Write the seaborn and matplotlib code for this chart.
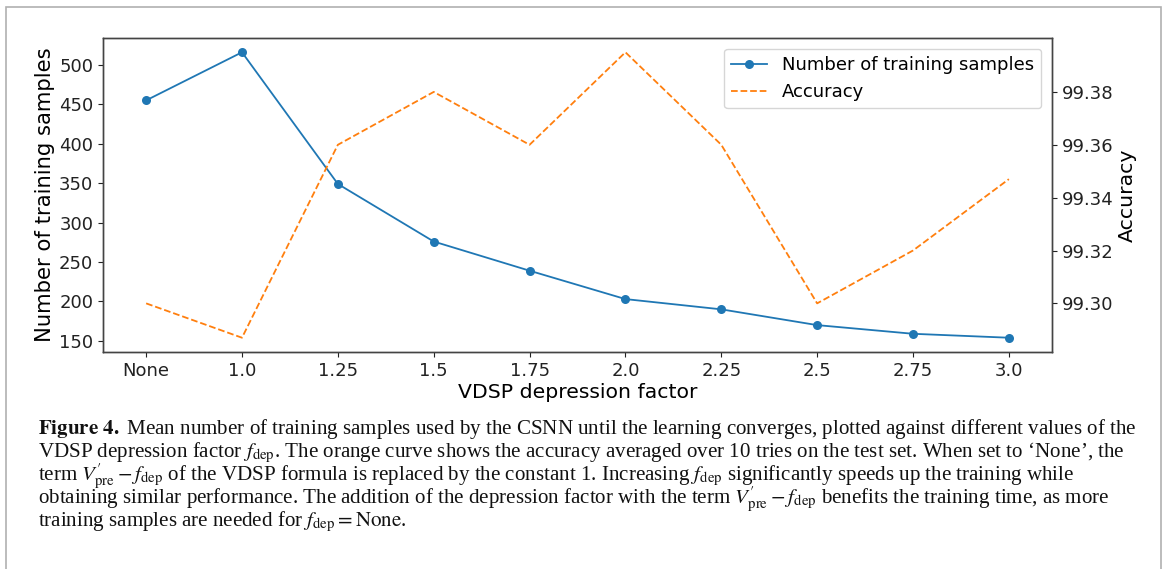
import matplotlib
matplotlib.use("Agg")
import matplotlib.pyplot as plt
import seaborn as sns
import pandas as pd
from matplotlib.patches import Rectangle

# ---- data ----
factors = ["None", "1.0", "1.25", "1.5", "1.75", "2.0", "2.25", "2.5", "2.75", "3.0"]
n_samples = [455, 516, 349, 276, 239, 203, 190, 170, 159, 154]
accuracy = [99.300, 99.287, 99.360, 99.380, 99.360, 99.395, 99.360, 99.300, 99.320, 99.347]

caption_lines = [
    r"$\mathbf{Figure\ 4.}$ Mean number of training samples used by the CSNN until the learning converges, plotted against different values of the",
    r"VDSP depression factor $f_{\mathrm{dep}}$. The orange curve shows the accuracy averaged over 10 tries on the test set. When set to ‘None’, the",
    r"term $V^{′}_{\mathrm{pre}} - f_{\mathrm{dep}}$ of the VDSP formula is replaced by the constant 1. Increasing $f_{\mathrm{dep}}$ significantly speeds up the training while",
    r"obtaining similar performance. The addition of the depression factor with the term $V^{′}_{\mathrm{pre}} - f_{\mathrm{dep}}$ benefits the training time, as more",
    r"training samples are needed for $f_{\mathrm{dep}} = \mathrm{None}$.",
]

plt.rcParams["mathtext.fontset"] = "stix"
plt.rcParams["font.family"] = ["DejaVu Sans"]

df = pd.DataFrame({"factor": factors, "samples": n_samples, "acc": accuracy})

W, H = 1165, 569
fig = plt.figure(figsize=(W / 100, H / 100), dpi=100)
fig.patch.set_facecolor("white")

ax = fig.add_axes([103 / W, 1 - 352 / H, (1052 - 103) / W, (352 - 38) / H])
ax2 = ax.twinx()

sns.lineplot(data=df, x="factor", y="samples", ax=ax, sort=False, color="#1f77b4",
             marker="o", markersize=6.5, markeredgewidth=0, linewidth=1.3,
             label="Number of training samples", legend=False)
sns.lineplot(data=df, x="factor", y="acc", ax=ax2, sort=False, color="#ff7f0e",
             linestyle="--", linewidth=1.3, label="Accuracy", legend=False)

ax.margins(x=0.05, y=0.05)
ax2.margins(y=0.05)
ax.set_xlabel("VDSP depression factor", fontsize=14.7, labelpad=2)
ax.set_ylabel("Number of training samples", fontsize=15.2, labelpad=3)
ax2.set_ylabel("Accuracy", fontsize=14.7, labelpad=3)
ax.set_yticks([150, 200, 250, 300, 350, 400, 450, 500])
ax2.set_yticks([99.30, 99.32, 99.34, 99.36, 99.38])
ax2.set_yticklabels(["99.30", "99.32", "99.34", "99.36", "99.38"])
for a in (ax, ax2):
    a.tick_params(labelsize=13, colors="#222222", width=0.8, length=3.5)
    for s in a.spines.values():
        s.set_color("#444444")
        s.set_linewidth(1.0)

h1, l1 = ax.get_legend_handles_labels()
h2, l2 = ax2.get_legend_handles_labels()
leg = ax2.legend(h1 + h2, l1 + l2, loc="upper right", fontsize=13, framealpha=0.8,
                 borderaxespad=0.6)

# caption
y0 = 434
for i, line in enumerate(caption_lines):
    fig.text(38 / W, 1 - (y0 + 23 * i) / H, line, fontsize=15.1, family="Liberation Serif",
             va="baseline", ha="left", color="#111111")

# border
fig.patches.append(Rectangle((6 / W, -0.05), (1161 - 6) / W, 1.05 - 7 / H,
                             transform=fig.transFigure, fill=False,
                             edgecolor="#b0b0b0", linewidth=1.2))

fig.savefig("out.png", dpi=100)
